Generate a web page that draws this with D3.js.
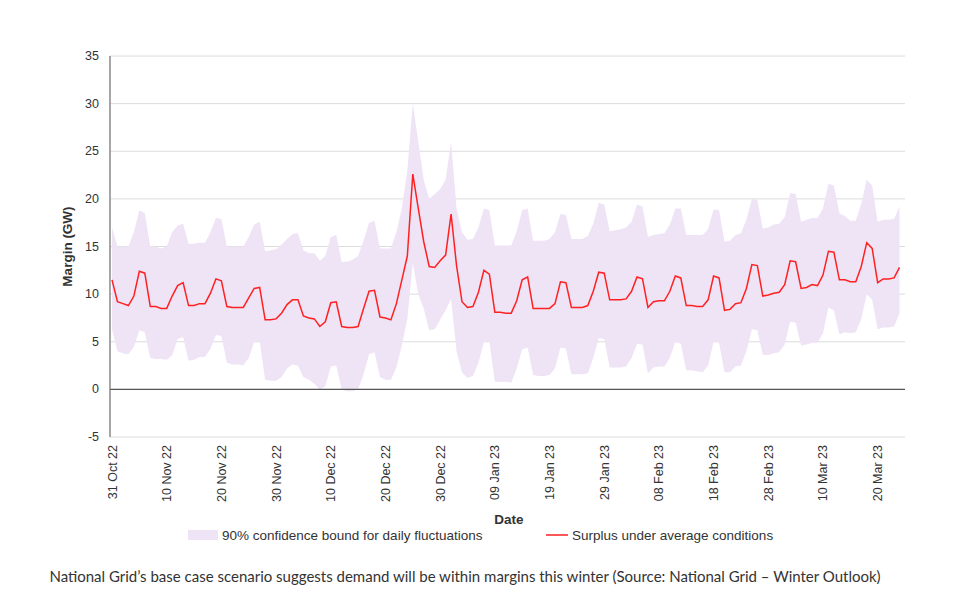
<!DOCTYPE html>
<html>
<head>
<meta charset="utf-8">
<script src="https://cdn.jsdelivr.net/npm/d3@7"></script>
<style>
  body { margin: 0; background: #fff; }
  .caption { position: absolute; left: 0; width: 930px; top: 567px; text-align: center;
    font-family: Lato, sans-serif; font-size: 15px; color: #333; }
</style>
</head>
<body>
<div id="chart"></div>
<div class="caption">National Grid’s base case scenario suggests demand will be within margins this winter (Source: National Grid – Winter Outlook)</div>
<script>
// daily values, one row per week starting Monday 31 Oct 22
var mean = [
  [11.5, 9.2, 9.0, 8.8, 9.8, 12.4, 12.2],
  [8.7, 8.7, 8.5, 8.5, 9.8, 10.9, 11.2],
  [8.8, 8.8, 9.0, 9.0, 10.1, 11.6, 11.4],
  [8.7, 8.6, 8.6, 8.6, 9.6, 10.6, 10.7],
  [7.3, 7.3, 7.4, 8.0, 8.9, 9.4, 9.4],
  [7.7, 7.5, 7.4, 6.6, 7.1, 9.1, 9.2],
  [6.6, 6.5, 6.5, 6.6, 8.5, 10.3, 10.4],
  [7.6, 7.5, 7.3, 9.0, 11.5, 14.0, 22.6],
  [19.0, 15.5, 12.9, 12.8, 13.5, 14.1, 18.4],
  [13.0, 9.2, 8.6, 8.7, 10.2, 12.5, 12.1],
  [8.1, 8.1, 8.0, 8.0, 9.3, 11.5, 11.8],
  [8.5, 8.5, 8.5, 8.5, 9.0, 11.3, 11.2],
  [8.6, 8.6, 8.6, 8.8, 10.3, 12.3, 12.2],
  [9.4, 9.4, 9.4, 9.5, 10.3, 11.8, 11.6],
  [8.6, 9.2, 9.3, 9.3, 10.3, 11.9, 11.7],
  [8.8, 8.8, 8.7, 8.7, 9.4, 11.9, 11.7],
  [8.3, 8.4, 9.0, 9.1, 10.6, 13.1, 13.0],
  [9.8, 9.9, 10.1, 10.2, 11.0, 13.5, 13.4],
  [10.6, 10.7, 11.0, 10.9, 12.0, 14.5, 14.4],
  [11.5, 11.5, 11.3, 11.3, 12.9, 15.4, 14.8],
  [11.2, 11.6, 11.6, 11.7, 12.8]
];
var upper = [
  [17, 15, 15, 15, 16.5, 18.8, 18.5],
  [15, 15, 14.8, 15, 16.5, 17.2, 17.4],
  [15.3, 15.3, 15.4, 15.4, 16.5, 18, 17.9],
  [15, 15, 15, 15, 16, 17.3, 17.6],
  [14.5, 14.6, 14.7, 15.2, 15.8, 16.3, 16.4],
  [14.6, 14.3, 14.3, 13.5, 14, 16, 16.2],
  [13.4, 13.4, 13.6, 14, 15.6, 17.5, 17.7],
  [14.8, 14.8, 14.8, 16.5, 19, 23, 30],
  [26, 22, 20, 20.5, 21, 22, 26],
  [19, 16.5, 15.7, 15.8, 17, 19, 18.8],
  [15.1, 15.1, 15.1, 15.1, 16.6, 18.8, 19],
  [15.6, 15.6, 15.6, 15.8, 16.5, 18.4, 18.3],
  [15.8, 15.8, 15.8, 16.1, 17.4, 19.6, 19.4],
  [16.6, 16.7, 16.8, 17, 17.6, 19.4, 19.2],
  [16, 16.2, 16.3, 16.4, 17.3, 19, 19],
  [16.2, 16.2, 16.2, 16.2, 16.8, 18.9, 18.8],
  [15.5, 15.6, 16.2, 16.4, 17.8, 20, 19.9],
  [16.9, 17, 17.3, 17.4, 18.1, 20.6, 20.5],
  [17.6, 17.8, 18, 18, 19, 21.6, 21.4],
  [18.5, 18.2, 17.7, 17.7, 19.5, 22, 21.4],
  [17.6, 17.8, 17.8, 17.9, 19.2]
];
var lower = [
  [6.3, 4, 3.8, 3.7, 4.5, 6.2, 6],
  [3.3, 3.2, 3.2, 3.1, 3.6, 5.3, 5.5],
  [3, 3.1, 3.4, 3.4, 4.3, 5.7, 5.6],
  [2.8, 2.6, 2.6, 2.5, 3.3, 5.0, 5.1],
  [1, 0.9, 0.9, 1.3, 2.2, 2.6, 2.5],
  [1.3, 1, 0.6, 0, 0.3, 2.4, 2.5],
  [0, -0.2, -0.2, 0, 1.6, 3.7, 3.9],
  [1.3, 1.0, 1.0, 2.3, 4.6, 7.4, 13.3],
  [10, 8.5, 6.2, 6.3, 7.3, 8.3, 9.5],
  [4, 1.8, 1.2, 1.4, 2.8, 5.0, 5.0],
  [0.8, 0.8, 0.8, 0.7, 2.2, 4.2, 4.4],
  [1.5, 1.4, 1.4, 1.5, 2.2, 4.4, 4.3],
  [1.6, 1.6, 1.6, 1.7, 3.3, 5.4, 5.3],
  [2.3, 2.3, 2.3, 2.4, 3.3, 4.8, 4.7],
  [1.7, 2.3, 2.4, 2.4, 3.3, 5.0, 4.8],
  [2, 2, 1.9, 1.8, 2.5, 5, 4.9],
  [1.8, 1.8, 2.4, 2.5, 4, 6.3, 6.2],
  [3.6, 3.6, 3.8, 3.9, 4.7, 7.1, 7.0],
  [4.6, 4.7, 4.9, 4.9, 5.9, 8.6, 8.3],
  [5.8, 6, 5.9, 6, 7.4, 10, 9.4],
  [6.3, 6.5, 6.5, 6.6, 8]
];

// flatten into daily rows
var start = new Date(2022, 9, 31);
var data = [];
mean.forEach(function (week, w) {
  week.forEach(function (v, d) {
    var i = w * 7 + d;
    data.push({ date: d3.timeDay.offset(start, i), mean: v, lo: lower[w][d], hi: upper[w][d] });
  });
});

var W = 959, H = 609;
var margin = { left: 110, right: 54, top: 56, bottom: 172 };
var svg = d3.select("#chart").append("svg").attr("width", W).attr("height", H)
  .style("font-family", "Liberation Sans, Arial, sans-serif");

var x = d3.scaleTime()
  .domain([start, new Date(2023, 2, 25)])
  .range([margin.left + 2, W - margin.right]);
var y = d3.scaleLinear().domain([-5, 35]).range([H - margin.bottom, margin.top]);

// grid
svg.append("g").selectAll("line").data(d3.range(-5, 36, 5)).enter().append("line")
  .attr("x1", margin.left).attr("x2", W - margin.right)
  .attr("y1", d => y(d)).attr("y2", d => y(d))
  .attr("stroke", "#dcdcdc").attr("stroke-width", 1);

// y labels
svg.append("g").selectAll("text").data(d3.range(-5, 36, 5)).enter().append("text")
  .attr("x", margin.left - 11).attr("y", d => y(d) + 4)
  .attr("text-anchor", "end").attr("font-size", 12.5).attr("fill", "#333")
  .text(d => d);

// band
svg.append("path").datum(data)
  .attr("fill", "#efe3f6")
  .attr("d", d3.area().x(d => x(d.date)).y0(d => y(d.lo)).y1(d => y(d.hi)));

// axes lines
svg.append("line").attr("x1", margin.left).attr("x2", W - margin.right)
  .attr("y1", y(0)).attr("y2", y(0)).attr("stroke", "#555").attr("stroke-width", 1.3);
svg.append("line").attr("x1", margin.left).attr("x2", margin.left)
  .attr("y1", margin.top).attr("y2", y(-5)).attr("stroke", "#777").attr("stroke-width", 1.3);

// mean line
svg.append("path").datum(data)
  .attr("fill", "none").attr("stroke", "#ff2121").attr("stroke-width", 1.5)
  .attr("d", d3.line().x(d => x(d.date)).y(d => y(d.mean)));

// x tick labels every 10 days
var ticks = d3.range(0, 141, 10).map(i => d3.timeDay.offset(start, i));
var fmt = d3.timeFormat("%d %b %y");
svg.append("g").selectAll("text").data(ticks).enter().append("text")
  .attr("transform", d => "translate(" + (x(d) + 4.5) + "," + (y(-5) + 8) + ") rotate(-90)")
  .attr("text-anchor", "end").attr("font-size", 12.5).attr("fill", "#333")
  .text(d => fmt(d));

// titles
svg.append("text").attr("transform", "translate(72," + y(15) + ") rotate(-90)")
  .attr("text-anchor", "middle").attr("font-size", 13.5).attr("font-weight", "bold").attr("fill", "#333")
  .text("Margin (GW)");
svg.append("text").attr("x", 509).attr("y", 524)
  .attr("text-anchor", "middle").attr("font-size", 13.5).attr("font-weight", "bold").attr("fill", "#333")
  .text("Date");

// legend
var lg = svg.append("g").attr("transform", "translate(0,535)");
lg.append("rect").attr("x", 188).attr("y", -5).attr("width", 30).attr("height", 10).attr("fill", "#efe3f6");
lg.append("text").attr("x", 222).attr("y", 4.5).attr("font-size", 13.5).attr("fill", "#333")
  .text("90% confidence bound for daily fluctuations");
lg.append("line").attr("x1", 546).attr("x2", 568).attr("y1", 0).attr("y2", 0)
  .attr("stroke", "#ff2121").attr("stroke-width", 1.5);
lg.append("text").attr("x", 572).attr("y", 4.5).attr("font-size", 13.5).attr("fill", "#333")
  .text("Surplus under average conditions");
</script>
</body>
</html>
